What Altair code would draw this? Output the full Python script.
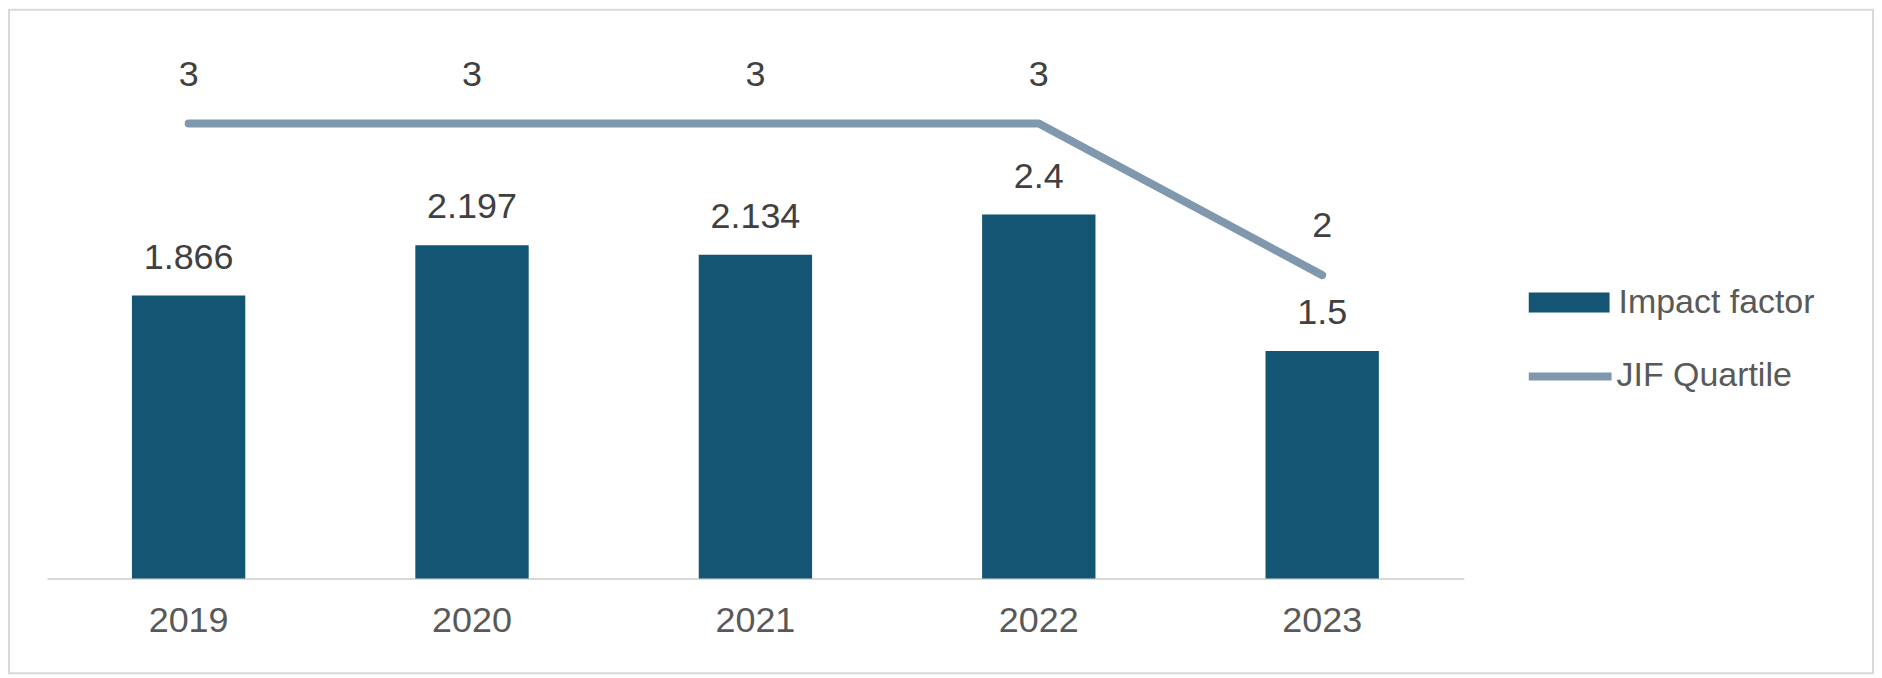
import altair as alt
import pandas as pd

years = ["2019", "2020", "2021", "2022", "2023"]
impact = [1.866, 2.197, 2.134, 2.4, 1.5]
impact_text = ["1.866", "2.197", "2.134", "2.4", "1.5"]
quartile = [3, 3, 3, 3, 2]
quartile_text = ["3", "3", "3", "3", "2"]

BAR = "#135573"
LINE = "#7f98ad"
FONT = "Liberation Sans"

df = pd.DataFrame({
    "year": years,
    "impact": impact,
    "impact_text": impact_text,
    "quartile": quartile,
    "quartile_text": quartile_text,
    "s1": ["Impact factor"] * 5,
    "s2": ["JIF Quartile"] * 5,
})

W, H = 1420, 532
PL, PT, PR, PB = 39, 39, 411, 96

x = alt.X("year:N", sort=years, title=None,
          scale=alt.Scale(paddingInner=0.6, paddingOuter=0.3),
          axis=alt.Axis(labelAngle=0, labelFontSize=36, labelColor="#595959",
                        labelFont=FONT, ticks=False, labelPadding=25,
                        domainColor="#d9d9d9", domainWidth=2, grid=False))
yscale = alt.Scale(domain=[0, 3.5], nice=False, zero=True)

base = alt.Chart(df)

bars = base.mark_bar(color=BAR).encode(
    x=x,
    y=alt.Y("impact:Q", scale=yscale, axis=None),
    fill=alt.Fill("s1:N", scale=alt.Scale(domain=["Impact factor"], range=[BAR]),
                  legend=alt.Legend(title=None, orient="none", legendX=1485, legendY=215,
                                    symbolType="M-1,-0.247H1V0.247H-1Z", symbolSize=6561,
                                    symbolStrokeWidth=0, symbolFillColor=BAR,
                                    labelFontSize=34, labelColor="#595959", labelFont=FONT,
                                    labelOffset=9, labelLimit=0, padding=0)),
)

bar_labels = base.mark_text(fontSize=36, color="#404040", font=FONT, dy=-38,
                            baseline="middle").encode(
    x=x,
    y=alt.Y("impact:Q", scale=yscale, axis=None),
    text="impact_text:N",
)

line = base.mark_line(strokeWidth=8, strokeCap="round", strokeJoin="round").encode(
    x=x,
    y=alt.Y("quartile:Q", scale=yscale, axis=None),
    stroke=alt.Stroke("s2:N", scale=alt.Scale(domain=["JIF Quartile"], range=[LINE]),
                      legend=alt.Legend(title=None, orient="none", legendX=1481, legendY=284,
                                        symbolType="stroke", symbolSize=6889,
                                        symbolStrokeWidth=8, symbolStrokeColor=LINE,
                                        labelFontSize=34, labelColor="#595959", labelFont=FONT,
                                        labelOffset=1, labelLimit=0, padding=0)),
)

line_labels = base.mark_text(fontSize=36, color="#404040", font=FONT, dy=-49,
                             baseline="middle").encode(
    x=x,
    y=alt.Y("quartile:Q", scale=yscale, axis=None),
    text="quartile_text:N",
)

frame = alt.Chart(alt.Data(values=[{"a": 1}])).mark_rect(
    fillOpacity=0, stroke="#d9d9d9", strokeWidth=2
).encode(
    x=alt.value(-PL + 1), x2=alt.value(W + PR - 1),
    y=alt.value(-PT + 1), y2=alt.value(H + PB - 1),
)

chart = alt.layer(frame, bars, bar_labels, line, line_labels).properties(
    width=W, height=H,
    autosize=alt.AutoSizeParams(type="none"),
    padding={"left": PL, "top": PT, "right": PR, "bottom": PB},
    background="white",
).configure_view(stroke=None)

chart.save("out.html", embed_options={"renderer": "svg", "actions": False})
